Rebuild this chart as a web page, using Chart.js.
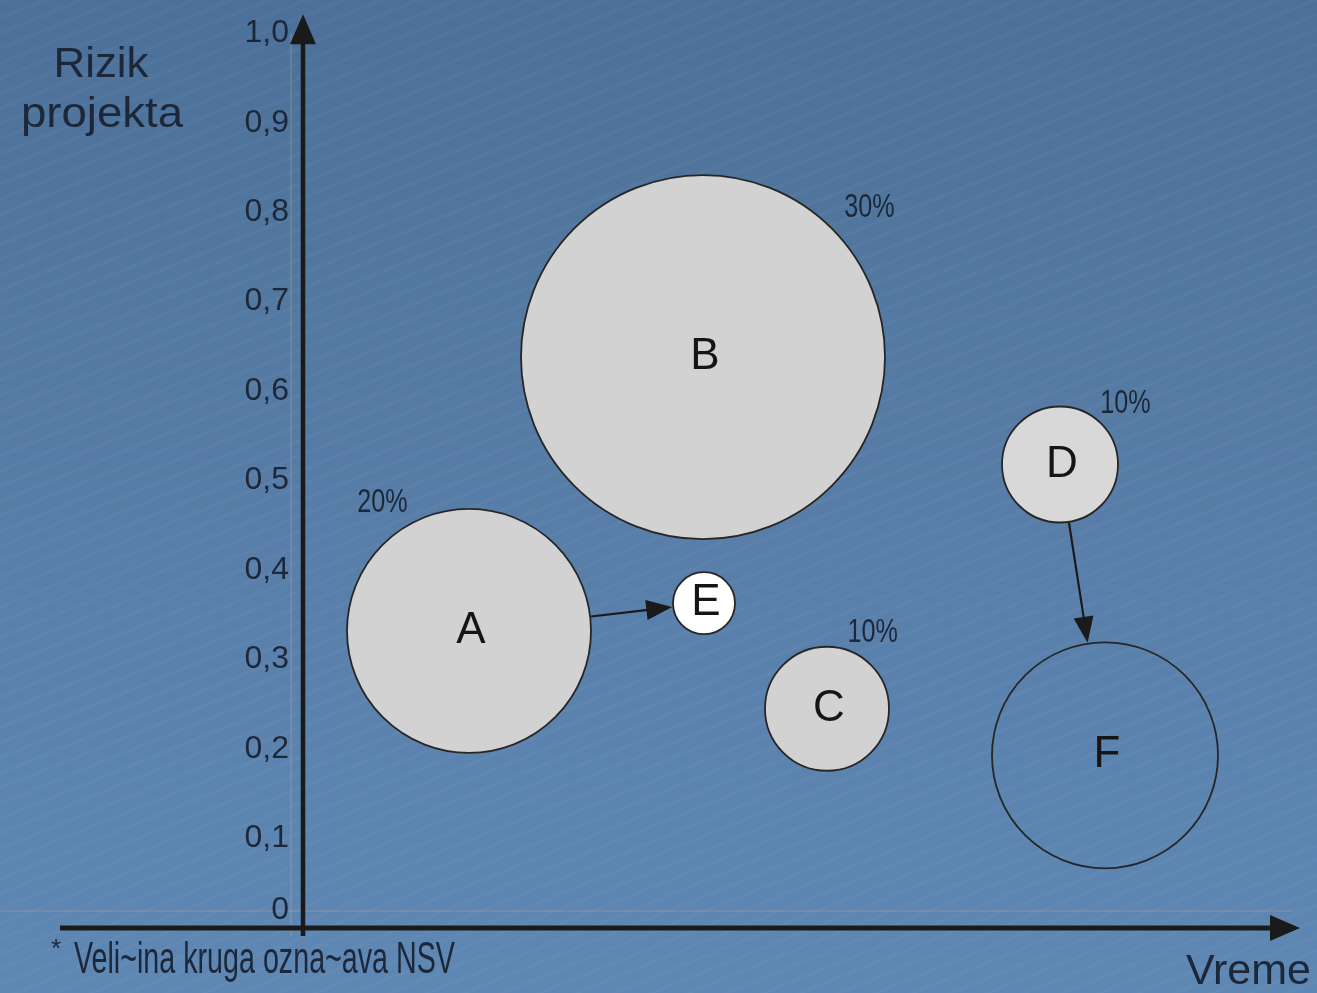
<!DOCTYPE html>
<html>
<head>
<meta charset="utf-8">
<title>Rizik projekta / Vreme</title>
<script src="https://cdn.jsdelivr.net/npm/chart.js@4/dist/chart.umd.min.js"></script>
<style>
  html, body { margin: 0; padding: 0; overflow: hidden; }
  body {
    width: 1317px; height: 993px;
    background:
      repeating-linear-gradient(-22deg, rgba(255,255,255,0.0) 0px, rgba(255,255,255,0.0) 9px, rgba(255,255,255,0.035) 11px, rgba(255,255,255,0.0) 14px),
      linear-gradient(180deg, #4c7099 0%, #52779f 25%, #587ea9 55%, #5c84b0 80%, #5e87b3 100%);
  }
  canvas { display: block; }
</style>
</head>
<body>
<canvas id="c" width="1317" height="993"></canvas>
<script>
// Projects: time position, project risk, bubble radius (NSV) and NSV share label
const categories = ['A', 'B', 'C', 'D', 'E', 'F'];
const vremeValues = [1.66, 4.00, 5.24, 7.57, 4.01, 8.02];
const rizikValues = [0.332, 0.638, 0.245, 0.518, 0.363, 0.193];
const nsvRadius = [122, 182, 62, 58, 31, 113];
const nsvShare = [20, 30, 10, 10, null, null];

// Transitions between projects (arrows)
const transitionFrom = ['A', 'D'];
const transitionTo = ['E', 'F'];

// Risk axis ticks
const yTickValues = [0, 0.1, 0.2, 0.3, 0.4, 0.5, 0.6, 0.7, 0.8, 0.9, 1.0];
const yTickLabels = ['0', '0,1', '0,2', '0,3', '0,4', '0,5', '0,6', '0,7', '0,8', '0,9', '1,0'];

// Styling
const INK = '#1c2839';
const LINE = '#1a1a1a';
const SANS = '"Liberation Sans", Arial, "DejaVu Sans", sans-serif';
const fills = ['#d2d2d2', '#d2d2d2', '#d2d2d2', '#d8d8d8', '#ffffff', 'rgba(0,0,0,0)'];
// where each share label sits: [angle in degrees, distance as multiple of radius]
const shareLabelPlacement = {
  A: [-124, 1.27],
  B: [-42, 1.23],
  C: [-59, 1.43],
  D: [-43, 1.54]
};

function drawText(ctx, text, x, y, size, align, scaleX, color) {
  ctx.save();
  ctx.font = size + 'px ' + SANS;
  ctx.fillStyle = color || INK;
  ctx.textBaseline = 'middle';
  ctx.textAlign = align;
  ctx.translate(x, y);
  ctx.scale(scaleX, 1);
  ctx.fillText(text, 0, 0);
  ctx.restore();
}

function arrowHead(ctx, x, y, ang, len, half) {
  ctx.beginPath();
  ctx.moveTo(x, y);
  ctx.lineTo(x - len * Math.cos(ang) + half * Math.sin(ang), y - len * Math.sin(ang) - half * Math.cos(ang));
  ctx.lineTo(x - len * Math.cos(ang) - half * Math.sin(ang), y - len * Math.sin(ang) + half * Math.cos(ang));
  ctx.closePath();
  ctx.fill();
}

const decorations = {
  id: 'decorations',
  beforeDatasetsDraw(chart) {
    const ctx = chart.ctx;
    const xs = chart.scales.x, ys = chart.scales.y;
    const x0 = xs.left, y0 = ys.getPixelForValue(0);
    const yTop = ys.getPixelForValue(1.0);
    ctx.save();
    // faint guide lines
    ctx.strokeStyle = 'rgba(205,175,160,0.35)';
    ctx.lineWidth = 1.2;
    ctx.beginPath();
    ctx.moveTo(0, y0 - 17); ctx.lineTo(xs.right - 10, y0 - 17);
    ctx.moveTo(x0 - 12, yTop); ctx.lineTo(x0 - 12, y0 + 8);
    ctx.stroke();

    // axes with arrows
    ctx.strokeStyle = LINE;
    ctx.fillStyle = LINE;
    ctx.lineWidth = 5;
    ctx.beginPath();
    ctx.moveTo(60, y0); ctx.lineTo(xs.right - 20, y0);
    ctx.stroke();
    arrowHead(ctx, xs.right - 3, y0, 0, 30, 13);
    ctx.lineWidth = 4.5;
    ctx.beginPath();
    ctx.moveTo(x0, y0 + 8); ctx.lineTo(x0, yTop + 10);
    ctx.stroke();
    arrowHead(ctx, x0, yTop - 19, -Math.PI / 2, 30, 13);
    ctx.restore();

    // zero tick label sits just above the time axis
    drawText(ctx, yTickLabels[0], x0 - 14, y0 - 18, 32, 'right', 1, INK);
  },
  afterDatasetsDraw(chart) {
    const ctx = chart.ctx;
    const meta = chart.getDatasetMeta(0);
    const pos = {};
    categories.forEach((c, i) => {
      const el = meta.data[i];
      pos[c] = { x: el.x, y: el.y, r: nsvRadius[i] };
    });

    // project letters
    categories.forEach((c) => {
      drawText(ctx, c, pos[c].x + 2, pos[c].y, 44, 'center', 1, '#151515');
    });

    // NSV share labels
    categories.forEach((c, i) => {
      if (nsvShare[i] == null) return;
      const [deg, k] = shareLabelPlacement[c];
      const a = deg * Math.PI / 180;
      const lx = pos[c].x + Math.cos(a) * pos[c].r * k;
      const ly = pos[c].y + Math.sin(a) * pos[c].r * k;
      drawText(ctx, nsvShare[i] + '%', lx, ly, 34, 'center', 0.74, INK);
    });

    // transition arrows, edge to edge
    ctx.save();
    ctx.strokeStyle = LINE;
    ctx.fillStyle = LINE;
    ctx.lineWidth = 2.2;
    transitionFrom.forEach((f, i) => {
      const a = pos[f], b = pos[transitionTo[i]];
      const ang = Math.atan2(b.y - a.y, b.x - a.x);
      const sx = a.x + Math.cos(ang) * (a.r + 1), sy = a.y + Math.sin(ang) * (a.r + 1);
      const ex = b.x - Math.cos(ang) * (b.r + 1), ey = b.y - Math.sin(ang) * (b.r + 1);
      ctx.beginPath();
      ctx.moveTo(sx, sy);
      ctx.lineTo(ex - Math.cos(ang) * 20, ey - Math.sin(ang) * 20);
      ctx.stroke();
      arrowHead(ctx, ex, ey, ang, 26, 10);
    });
    ctx.restore();

    // axis titles
    drawText(ctx, 'Rizik', 101, 65, 43, 'center', 1.02, INK);
    drawText(ctx, 'projekta', 102, 115, 43, 'center', 1.06, INK);
    drawText(ctx, 'Vreme', 1311, 972, 43, 'right', 1.0, INK);

    // footnote
    drawText(ctx, '*', 56, 950, 26, 'center', 1, INK);
    ctx.save();
    ctx.font = '44px ' + SANS;
    const txt = 'Veli~ina kruga ozna~ava NSV';
    const w = ctx.measureText(txt).width;
    ctx.restore();
    drawText(ctx, txt, 74, 961, 44, 'left', 381 / w, INK);
  }
};

new Chart(document.getElementById('c'), {
  type: 'bubble',
  data: {
    datasets: [{
      label: 'Projekti',
      data: categories.map((c, i) => ({ x: vremeValues[i], y: rizikValues[i], r: nsvRadius[i] })),
      backgroundColor: fills,
      borderColor: '#262626',
      borderWidth: 1.8,
      clip: false
    }]
  },
  options: {
    responsive: false,
    animation: false,
    events: [],
    layout: { autoPadding: false, padding: { left: 0, right: 14, top: 30, bottom: 65 } },
    plugins: { legend: { display: false }, tooltip: { enabled: false } },
    scales: {
      x: { type: 'linear', min: 0, max: 10, display: false },
      y: {
        type: 'linear', min: 0, max: 1,
        afterFit(s) { s.width = 303; },
        afterBuildTicks(s) { s.ticks = yTickValues.map(v => ({ value: v })); },
        grid: { display: false, drawTicks: false },
        border: { display: false },
        ticks: {
          padding: 14,
          color: INK,
          font: { family: SANS, size: 32 },
          callback: (v, i) => (i === 0 ? '' : yTickLabels[i])
        }
      }
    }
  },
  plugins: [decorations]
});
</script>
</body>
</html>
